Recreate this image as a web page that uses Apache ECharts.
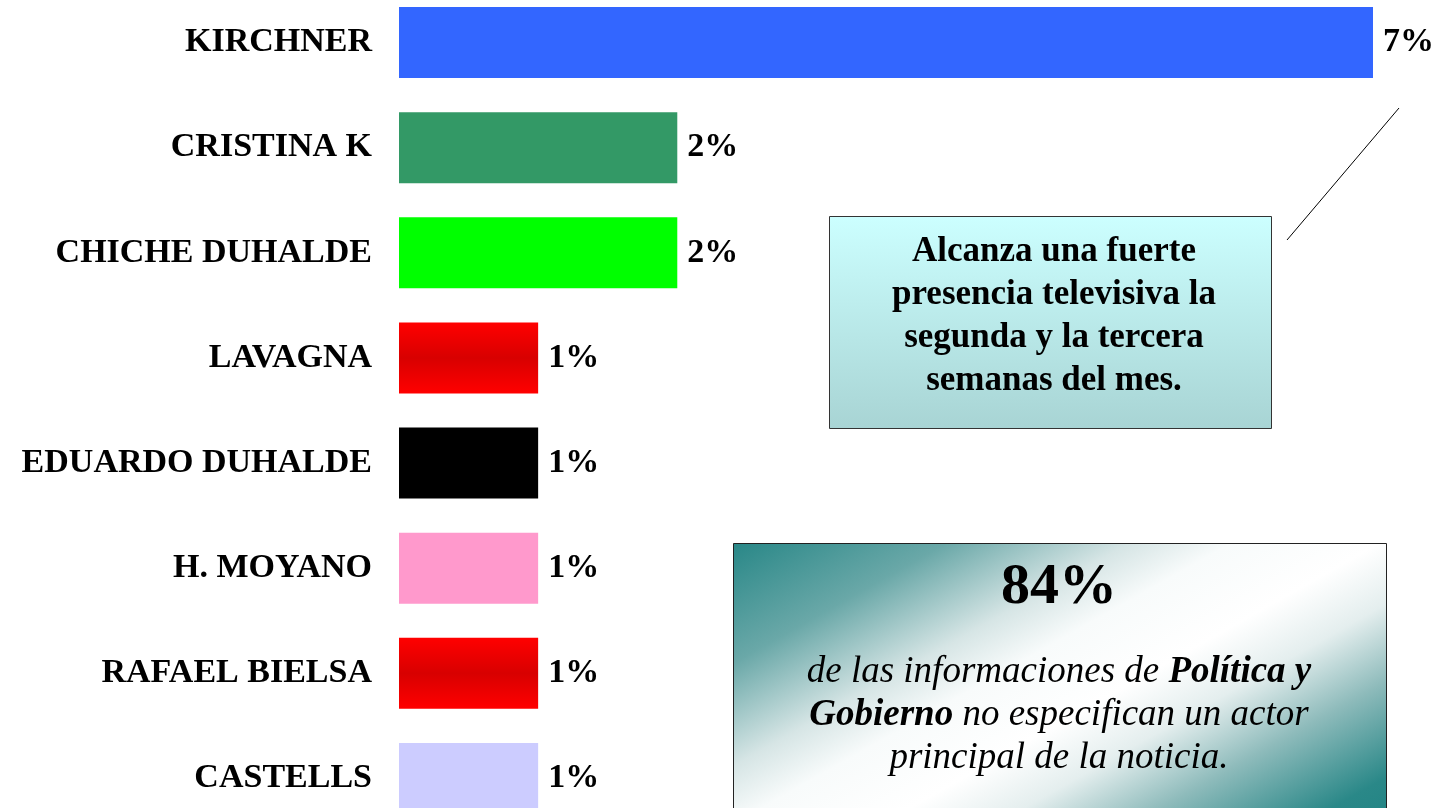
<!DOCTYPE html>
<html>
<head>
<meta charset="utf-8">
<title>Actores principales</title>
<script src="https://cdn.jsdelivr.net/npm/echarts@6/dist/echarts.min.js"></script>
<style>
  html, body { margin: 0; padding: 0; background: #fff; }
  #chartDom { width: 1438px; height: 808px; }
</style>
</head>
<body>
<div id="chartDom"></div>
<script>
// datos
var categories = ['KIRCHNER', 'CRISTINA K', 'CHICHE DUHALDE', 'LAVAGNA', 'EDUARDO DUHALDE', 'H. MOYANO', 'RAFAEL BIELSA', 'CASTELLS'];
var values = [7, 2, 2, 1, 1, 1, 1, 1];

var serif = '"Liberation Serif", "Times New Roman", serif';

// gradiente rojo de las barras rojas
function redGrad() {
  return new echarts.graphic.LinearGradient(0, 0, 0, 1, [
    { offset: 0, color: '#ff0000' },
    { offset: 0.5, color: '#d80000' },
    { offset: 1, color: '#ff0000' }
  ]);
}
var barColors = ['#3366ff', '#339966', '#00ff00', redGrad(), '#000000', '#ff99cc', redGrad(), '#ccccff'];

var chartDom = document.getElementById('chartDom');
var myChart = echarts.init(chartDom);
var option = {
  backgroundColor: '#ffffff',
  animation: false,
  grid: {
    left: 399,
    right: 65,
    top: -10,
    height: 841,
    containLabel: false,
    outerBoundsMode: 'none'
  },
  xAxis: {
    type: 'value',
    min: 0,
    max: 7,
    show: false
  },
  yAxis: {
    type: 'category',
    inverse: true,
    data: categories,
    axisLine: { show: false },
    axisTick: { show: false },
    axisLabel: {
      margin: 27,
      color: '#000',
      fontFamily: serif,
      fontWeight: 'bold',
      fontSize: 34
    }
  },
  series: [
    {
      type: 'bar',
      barWidth: 71,
      data: values.map(function (v, i) {
        return { value: v, itemStyle: { color: barColors[i] } };
      }),
      label: {
        show: true,
        position: 'right',
        distance: 10,
        formatter: '{c}%',
        color: '#000',
        fontFamily: serif,
        fontWeight: 'bold',
        fontSize: 34
      }
    }
  ],
  graphic: [
    // linea de llamada
    {
      type: 'line',
      shape: { x1: 1287, y1: 240, x2: 1399, y2: 108 },
      style: { stroke: '#000', lineWidth: 1 }
    },
    // recuadro celeste
    {
      type: 'rect',
      shape: { x: 829.5, y: 216.5, width: 442, height: 212 },
      style: {
        fill: new echarts.graphic.LinearGradient(0, 0, 0, 1, [
          { offset: 0, color: '#ccffff' },
          { offset: 1, color: '#a8d4d4' }
        ]),
        stroke: '#333',
        lineWidth: 1
      }
    },
    {
      type: 'text',
      x: 1054,
      y: 316,
      style: {
        text: 'Alcanza una fuerte\npresencia televisiva la\nsegunda y la tercera\nsemanas del mes.',
        align: 'center',
        verticalAlign: 'middle',
        fontFamily: serif,
        fontWeight: 'bold',
        fontSize: 35,
        lineHeight: 43,
        fill: '#000'
      }
    },
    // recuadro verde azulado
    {
      type: 'rect',
      shape: { x: 733.5, y: 543.5, width: 653, height: 300 },
      style: {
        fill: new echarts.graphic.LinearGradient(887, 448, 1162, 936, [
          { offset: 0, color: '#248585' },
          { offset: 0.2, color: '#6aa8a8' },
          { offset: 0.36, color: '#d6e5e5' },
          { offset: 0.45, color: '#f8fbfb' },
          { offset: 0.58, color: '#ffffff' },
          { offset: 0.68, color: '#e4eeee' },
          { offset: 0.8, color: '#8ebbbb' },
          { offset: 0.95, color: '#2a8888' },
          { offset: 1, color: '#248585' }
        ], true),
        stroke: '#222',
        lineWidth: 1
      }
    },
    {
      type: 'text',
      x: 1059,
      y: 588,
      style: {
        text: '84%',
        align: 'center',
        verticalAlign: 'middle',
        fontFamily: serif,
        fontWeight: 'bold',
        fontSize: 58,
        fill: '#000'
      }
    },
    {
      type: 'text',
      x: 1059,
      y: 715,
      style: {
        text: '{i|de las informaciones de }{bi|Política y}\n{bi|Gobierno}{i| no especifican un actor}\n{i|principal de la noticia.}',
        align: 'center',
        verticalAlign: 'middle',
        fontFamily: serif,
        fontSize: 37,
        lineHeight: 43,
        fill: '#000',
        rich: {
          i: { fontFamily: serif, fontStyle: 'italic', fontSize: 37, lineHeight: 43, fill: '#000' },
          bi: { fontFamily: serif, fontStyle: 'italic', fontWeight: 'bold', fontSize: 37, lineHeight: 43, fill: '#000' }
        }
      }
    }
  ]
};
option && myChart.setOption(option);
window.addEventListener('resize', function () {
  myChart.resize();
});
</script>
</body>
</html>
